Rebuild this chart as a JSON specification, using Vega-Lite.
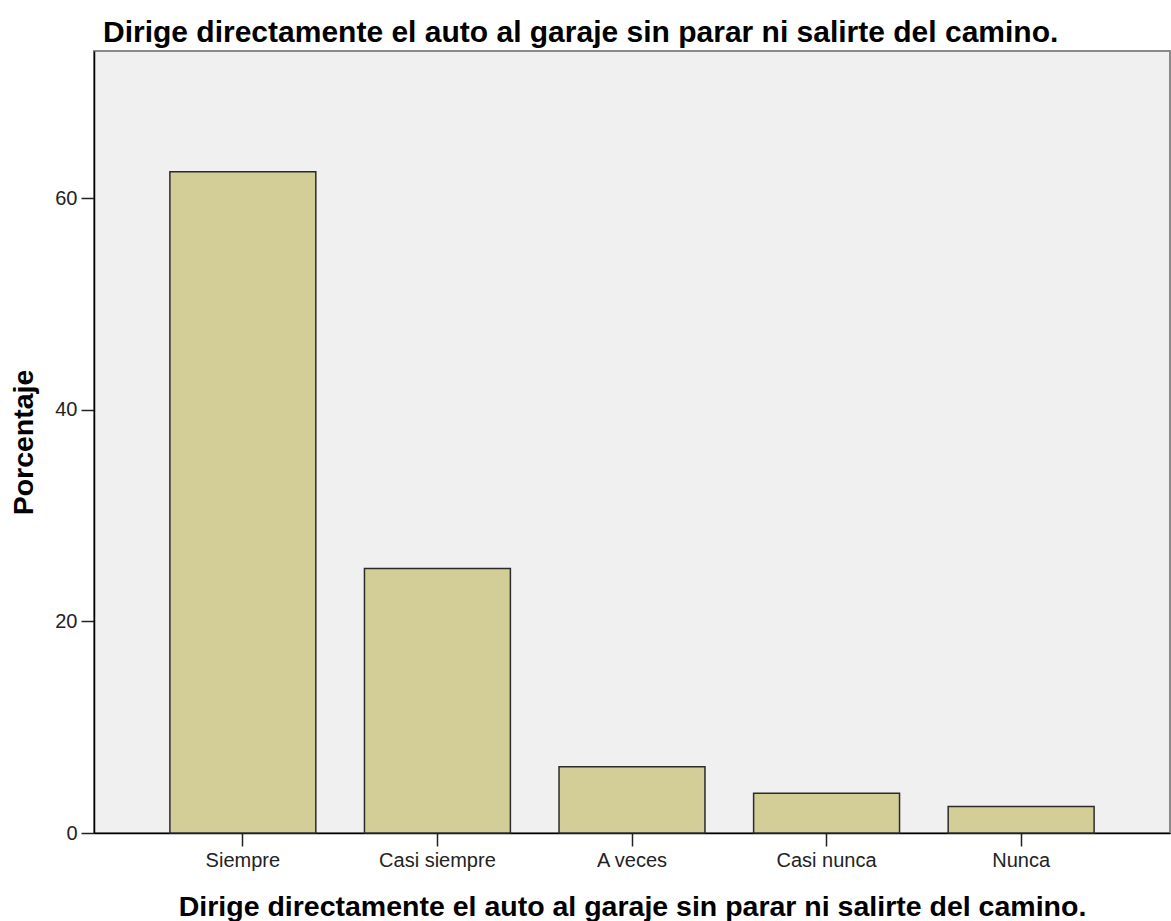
{
  "$schema": "https://vega.github.io/schema/vega-lite/v6.json",
  "width": 1076,
  "height": 782,
  "autosize": {"type": "none"},
  "padding": {"left": 94, "top": 51, "right": 1, "bottom": 88},
  "background": "white",
  "title": {
    "text": "Dirige directamente el auto al garaje sin parar ni salirte del camino.",
    "anchor": "start",
    "frame": "group",
    "font": "Liberation Sans",
    "fontSize": 30,
    "fontWeight": "bold",
    "color": "black",
    "baseline": "alphabetic",
    "offset": 13,
    "dx": 9,
    "dy": 34
  },
  "config": {
    "view": {"fill": "#f0f0f0", "stroke": "#8a8a8a", "strokeWidth": 2},
    "axis": {"grid": false}
  },
  "data": {
    "values": [
      {"cat": "Siempre", "pct": 62.5},
      {"cat": "Casi siempre", "pct": 25.0},
      {"cat": "A veces", "pct": 6.25},
      {"cat": "Casi nunca", "pct": 3.75},
      {"cat": "Nunca", "pct": 2.5}
    ]
  },
  "mark": {"type": "bar", "fill": "#d3ce97", "stroke": "#2b2b2b", "strokeWidth": 1.5},
  "encoding": {
    "x": {
      "field": "cat",
      "type": "nominal",
      "sort": null,
      "scale": {"paddingInner": 0.25, "paddingOuter": 0.39},
      "axis": {
        "title": "Dirige directamente el auto al garaje sin parar ni salirte del camino.",
        "titleFont": "Liberation Sans",
        "titleFontSize": 28.5,
        "titleFontWeight": "bold",
        "titleColor": "black",
        "titleBaseline": "alphabetic",
        "titleY": 82,
        "labelAngle": 0,
        "labelFont": "Liberation Sans",
        "labelFontSize": 20,
        "labelColor": "#222",
        "labelBaseline": "alphabetic",
        "labelPadding": 20,
        "tickSize": 13,
        "tickColor": "#222",
        "tickWidth": 1.5,
        "domainColor": "black",
        "domainWidth": 1.5
      }
    },
    "y": {
      "field": "pct",
      "type": "quantitative",
      "scale": {"domain": [0, 73.9], "nice": false},
      "axis": {
        "values": [0, 20, 40, 60],
        "title": "Porcentaje",
        "titleFont": "Liberation Sans",
        "titleFontSize": 28.5,
        "titleFontWeight": "bold",
        "titleColor": "black",
        "titleBaseline": "alphabetic",
        "titleAngle": -90,
        "titleAlign": "center",
        "titleX": -62,
        "titleY": 391,
        "labelFont": "Liberation Sans",
        "labelFontSize": 20,
        "labelColor": "#222",
        "labelPadding": 4,
        "tickSize": 13,
        "tickColor": "#222",
        "tickWidth": 1.5,
        "domainColor": "black",
        "domainWidth": 1.5
      }
    }
  }
}
